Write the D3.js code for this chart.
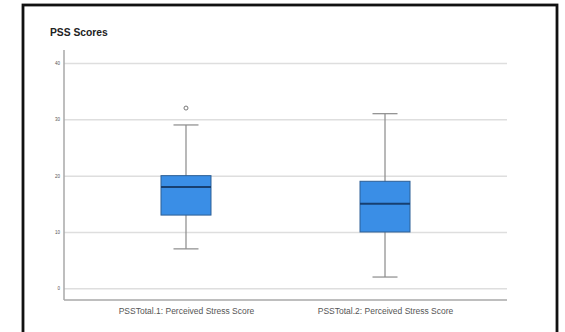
<!DOCTYPE html>
<html>
  <head>
    <meta charset="utf-8">
    <style>
      body { margin: 0; background: #fff; }
      svg { display: block; font-family: "Liberation Sans", Arial, sans-serif; }
      .grid line { stroke: #dedede; stroke-width: 1.5; }
      .grid path { display: none; }
      .axis path { stroke: #a8a8a8; stroke-width: 1.5; }
      .axis line { display: none; }
      .axis text { fill: #555; }
    </style>
    <script src="https://cdn.jsdelivr.net/npm/d3@7"></script>
  </head>
  <body>
    <svg class="chart" width="565" height="332"></svg>
    <script>
      // data
      const categories = ["PSSTotal.1: Perceived Stress Score", "PSSTotal.2: Perceived Stress Score"];
      const whiskerLow = [7, 2];
      const q1 = [13, 10];
      const median = [18, 15];
      const q3 = [20, 19];
      const whiskerHigh = [29, 31];
      const outliers = [[32], []];
      const yTicks = [0, 10, 20, 30, 40];

      const boxes = categories.map((c, i) => ({
        name: c, lo: whiskerLow[i], q1: q1[i], med: median[i], q3: q3[i], hi: whiskerHigh[i], out: outliers[i]
      }));

      const svg = d3.select(".chart");
      const plot = { left: 64, right: 507, top: 50, bottom: 300 };

      // outer frame (open at the bottom)
      svg.append("rect")
        .attr("x", 23).attr("y", 5)
        .attr("width", 534).attr("height", 340)
        .attr("fill", "none")
        .attr("stroke", "#111")
        .attr("stroke-width", 2.8);

      svg.append("text")
        .attr("x", 50).attr("y", 36)
        .attr("font-size", 10.3)
        .attr("font-weight", "bold")
        .attr("fill", "#222")
        .text("PSS Scores");

      const y = d3.scaleLinear().domain([0, 40]).range([288.3, 63]);
      const x = d3.scalePoint().domain(categories).range([plot.left, plot.right]).padding(0.613);

      // gridlines
      svg.append("g")
        .attr("class", "grid")
        .attr("transform", `translate(${plot.left},0)`)
        .call(d3.axisLeft(y).tickValues(yTicks).tickSize(-(plot.right - plot.left)).tickFormat(""));

      // y axis
      const yAxis = svg.append("g")
        .attr("class", "axis")
        .attr("transform", `translate(${plot.left},0)`)
        .call(d3.axisLeft(y).tickValues(yTicks).tickSize(0).tickPadding(4));
      yAxis.select(".domain").attr("d", `M0,${plot.top}V${plot.bottom}`);
      yAxis.selectAll("text").attr("font-size", 4.5);

      // x axis
      const xAxis = svg.append("g")
        .attr("class", "axis")
        .attr("transform", `translate(0,${plot.bottom})`)
        .call(d3.axisBottom(x).tickSize(0).tickPadding(8));
      xAxis.select(".domain").attr("d", `M${plot.left},0H${plot.right}`);
      xAxis.selectAll("text").attr("font-size", 8.5).attr("fill", "#444");

      const boxW = 50, capW = 25;
      const g = svg.append("g").selectAll("g").data(boxes).enter().append("g");

      g.append("line")
        .attr("x1", d => x(d.name)).attr("x2", d => x(d.name))
        .attr("y1", d => y(d.lo)).attr("y2", d => y(d.hi))
        .attr("stroke", "#8a8a8a").attr("stroke-width", 1.2);
      g.selectAll(".cap").data(d => [d.lo, d.hi].map(v => ({ name: d.name, v }))).enter()
        .append("line")
        .attr("x1", d => x(d.name) - capW / 2).attr("x2", d => x(d.name) + capW / 2)
        .attr("y1", d => y(d.v)).attr("y2", d => y(d.v))
        .attr("stroke", "#8a8a8a").attr("stroke-width", 1.2);

      g.append("rect")
        .attr("x", d => x(d.name) - boxW / 2)
        .attr("y", d => y(d.q3))
        .attr("width", boxW)
        .attr("height", d => y(d.q1) - y(d.q3))
        .attr("fill", "#3a8ee6")
        .attr("stroke", "#2d5f96")
        .attr("stroke-width", 1);

      g.append("line")
        .attr("x1", d => x(d.name) - boxW / 2).attr("x2", d => x(d.name) + boxW / 2)
        .attr("y1", d => y(d.med)).attr("y2", d => y(d.med))
        .attr("stroke", "#173f70").attr("stroke-width", 2);

      g.selectAll(".out").data(d => d.out.map(v => ({ name: d.name, v }))).enter()
        .append("circle")
        .attr("cx", d => x(d.name)).attr("cy", d => y(d.v))
        .attr("r", 2)
        .attr("fill", "none")
        .attr("stroke", "#777")
        .attr("stroke-width", 1);
    </script>
  </body>
</html>
